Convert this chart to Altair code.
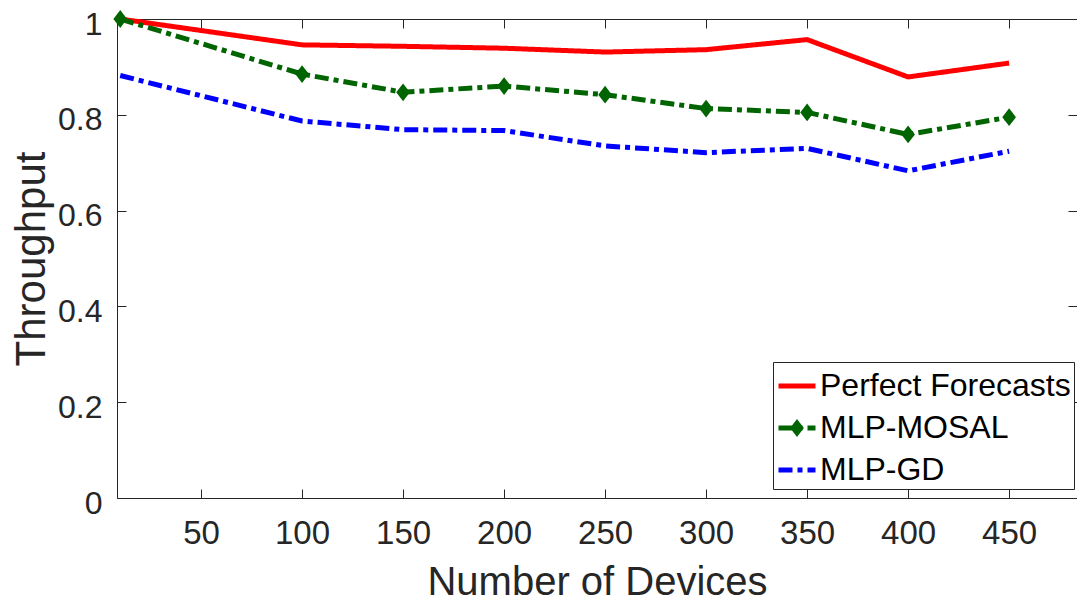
import altair as alt
import pandas as pd

devices = [10, 100, 150, 200, 250, 300, 350, 400, 450]
perfect = [1.0, 0.946, 0.943, 0.939, 0.931, 0.936, 0.957, 0.879, 0.908]
mosal = [1.0, 0.885, 0.847, 0.860, 0.842, 0.813, 0.805, 0.759, 0.795]
gd = [0.882, 0.787, 0.769, 0.767, 0.735, 0.721, 0.730, 0.683, 0.724]
series_names = ["Perfect Forecasts", "MLP-MOSAL", "MLP-GD"]
marker_keys = ["pf", "mosal", "gd"]
x_ticks = [50, 100, 150, 200, 250, 300, 350, 400, 450]
y_ticks = [0, 0.2, 0.4, 0.6, 0.8, 1.0]

rows = []
for name, key, vals in zip(series_names, marker_keys, [perfect, mosal, gd]):
    for d, v in zip(devices, vals):
        rows.append({"devices": d, "throughput": v, "series": name, "k": key})
df = pd.DataFrame(rows)

FONT = "Liberation Sans"
AX = "#262626"
RED, GREEN, BLUE = "#ff0000", "#006400", "#0000ff"
DIAMOND = "M0,-0.48L0.37,0L0,0.48L-0.37,0Z"

xscale = alt.Scale(domain=[8.4, 483.6], nice=False, zero=False)
yscale = alt.Scale(domain=[0, 1], nice=False)

common_leg = dict(orient="none", legendX=656, legendY=343, title=None, padding=3,
                  rowPadding=5, labelFont=FONT, labelFontSize=32, labelOffset=2,
                  labelLimit=400, symbolSize=1369, symbolStrokeWidth=5)

legA = alt.Legend(**common_leg, labelColor="#000000", symbolType="stroke",
                  strokeColor=AX, fillColor="white")
legB = alt.Legend(**common_leg, labelExpr="''", symbolStrokeColor="transparent",
                  symbolFillColor=GREEN, symbolOpacity=1)

lines = alt.Chart(df).mark_line(strokeWidth=5).encode(
    x=alt.X("devices:Q", scale=xscale,
            axis=alt.Axis(orient="bottom", values=x_ticks, title="Number of Devices",
                          offset=-9, tickSize=9, domain=False, labelPadding=19,
                          titlePadding=12, titleFontSize=40, labelFlush=False,
                          labelOverlap=False)),
    y=alt.Y("throughput:Q", scale=yscale,
            axis=alt.Axis(orient="left", values=y_ticks, format=".1~f", title="Throughput",
                          offset=-9, tickSize=9, domain=False, labelPadding=15,
                          labelOffset=5, labelFontSize=32, titlePadding=4,
                          titleFontSize=42, labelFlush=False, labelOverlap=False)),
    color=alt.Color("series:N", scale=alt.Scale(domain=series_names, range=[RED, GREEN, BLUE]),
                    legend=legA),
    strokeDash=alt.StrokeDash("series:N",
                              scale=alt.Scale(domain=series_names,
                                              range=[[1, 0], [14, 5, 5, 5], [14, 5, 5, 5]]),
                              legend=legA),
)

points = alt.Chart(df).transform_filter(alt.datum.k == "mosal").mark_point(
    filled=True, size=1369, opacity=1, color=GREEN, strokeWidth=0).encode(
    x=alt.X("devices:Q", scale=xscale, axis=None),
    y=alt.Y("throughput:Q", scale=yscale, axis=None),
    shape=alt.Shape("k:N", scale=alt.Scale(domain=marker_keys, range=["M0,0", DIAMOND, "M0,0"]),
                    legend=legB),
)

frame = alt.Chart(df).mark_point(opacity=0).encode(
    x=alt.X("devices:Q", scale=xscale,
            axis=alt.Axis(orient="top", values=x_ticks, labels=False, title=None,
                          offset=-9, tickSize=9, domain=False)),
    y=alt.Y("throughput:Q", scale=yscale,
            axis=alt.Axis(orient="right", values=y_ticks, labels=False, title=None,
                          offset=-9, tickSize=9, domain=False)),
)

chart = alt.layer(lines, points, frame).resolve_scale(
    x="shared", y="shared"
).resolve_axis(
    x="independent", y="independent"
).properties(
    width=960, height=479, autosize="none",
    padding={"left": 109, "top": 11, "right": 0, "bottom": 104},
    background="white",
).configure_view(
    stroke=AX, strokeWidth=1
).configure_axis(
    grid=False, labelFont=FONT, labelFontSize=33, labelColor=AX,
    titleFont=FONT, titleColor=AX, titleFontWeight="normal",
    tickColor=AX, tickWidth=1
)

chart.save("out.html", embed_options={"renderer": "svg", "actions": False})
